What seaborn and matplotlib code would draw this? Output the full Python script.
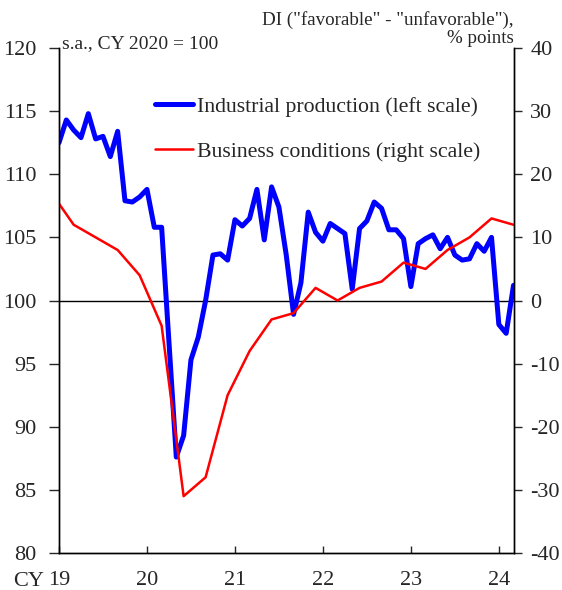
import numpy as np
import pandas as pd
import matplotlib
matplotlib.use("Agg")
import matplotlib.pyplot as plt
import seaborn as sns

# Industrial production, monthly from Jan 2019 (s.a., CY 2020 = 100)
ip_values = [
    112.5, 114.3, 113.5, 112.9, 114.8, 112.8, 113.0, 111.4, 113.4, 107.9, 107.8, 108.2,
    108.8, 105.8, 105.8, 96.7, 87.6, 89.3, 95.3, 97.1, 100.0, 103.6, 103.7, 103.2,
    106.4, 105.9, 106.5, 108.8, 104.8, 109.0, 107.4, 103.6, 98.9, 101.4, 107.0, 105.4,
    104.7, 106.1, 105.7, 105.3, 100.9, 105.7, 106.3, 107.8, 107.3, 105.6, 105.6, 104.9,
    101.1, 104.5, 104.9, 105.2, 104.1, 105.0, 103.6, 103.2, 103.3, 104.5, 103.9, 105.0,
    98.1, 97.4, 101.2,
]
ip_months = list(range(len(ip_values)))  # months since Jan 2019

# Business conditions DI, quarterly survey (Dec 2018 .. Mar 2024)
bc_months = [-1, 2, 5, 8, 11, 14, 17, 20, 23, 26, 29, 32, 35, 38, 41, 44, 47, 50, 53, 56, 59, 62]
bc_values = [17, 12, 10, 8, 4, -4, -31, -28, -15, -8, -3, -2, 2, 0, 2, 3, 6, 5, 8, 10, 13, 12]

year_ticks = [0, 12, 24, 36, 48, 60]
year_labels = ["19", "20", "21", "22", "23", "24"]

ip_df = pd.DataFrame({"month": ip_months, "value": ip_values})
bc_df = pd.DataFrame({"month": bc_months, "value": bc_values})

sns.set_style("white")
plt.rcParams["font.family"] = ["Liberation Serif", "DejaVu Serif"]
plt.rcParams["font.size"] = 16
plt.rcParams["axes.unicode_minus"] = False

fig = plt.figure(figsize=(5.62, 5.90), dpi=100)
ax = fig.add_axes([59 / 562, 37 / 590, 454.5 / 562, 505 / 590])
ax2 = ax.twinx()

sns.lineplot(data=ip_df, x="month", y="value", ax=ax, color="#0000ff", linewidth=3.6,
             label="Industrial production (left scale)", legend=False)
sns.lineplot(data=bc_df, x="month", y="value", ax=ax2, color="#ff0000", linewidth=1.8,
             label="Business conditions (right scale)", legend=False)

ax.axhline(100, color="black", linewidth=1.0, zorder=1)

ax.set_xlim(0, 62)
ax.set_ylim(80, 120)
ax2.set_ylim(-40, 40)
ax.set_yticks(range(80, 121, 5))
ax2.set_yticks(range(-40, 41, 10))
ax.set_xticks(year_ticks)
ax.set_xticklabels(year_labels)
ax.set_xlabel("")
ax.set_ylabel("")
ax2.set_ylabel("")

for a in (ax, ax2):
    for s in a.spines.values():
        s.set_color("black")
        s.set_linewidth(1.0)
    a.spines["top"].set_visible(False)

ax.tick_params(axis="y", direction="out", length=7, width=1, pad=9, left=True, labelsize=16)
ax2.tick_params(axis="y", direction="out", length=6, width=1, pad=6, right=True, labelsize=16)
ax.tick_params(axis="x", direction="in", length=5, width=1, pad=13, bottom=True, labelsize=16)

ax.text(0.006, 1.008, "s.a., CY 2020 = 100", transform=ax.transAxes,
        ha="left", va="center", fontsize=14)
ax.text(1.0, 1.002, 'DI ("favorable" - "unfavorable"),\n% points', transform=ax.transAxes,
        ha="right", va="bottom", fontsize=13.7, multialignment="right", linespacing=1.1)
fig.text(13 / 562, 1 - 581 / 590, "CY", ha="left", va="center", fontsize=16)

h1, l1 = ax.get_legend_handles_labels()
h2, l2 = ax2.get_legend_handles_labels()
ax.legend(h1 + h2, l1 + l2, loc="upper left", bbox_to_anchor=(0.211, 0.904),
          frameon=False, borderpad=0, borderaxespad=0, handlelength=1.75,
          handletextpad=0.18, labelspacing=1.15, fontsize=15.7)

fig.savefig("out.png", dpi=100)
